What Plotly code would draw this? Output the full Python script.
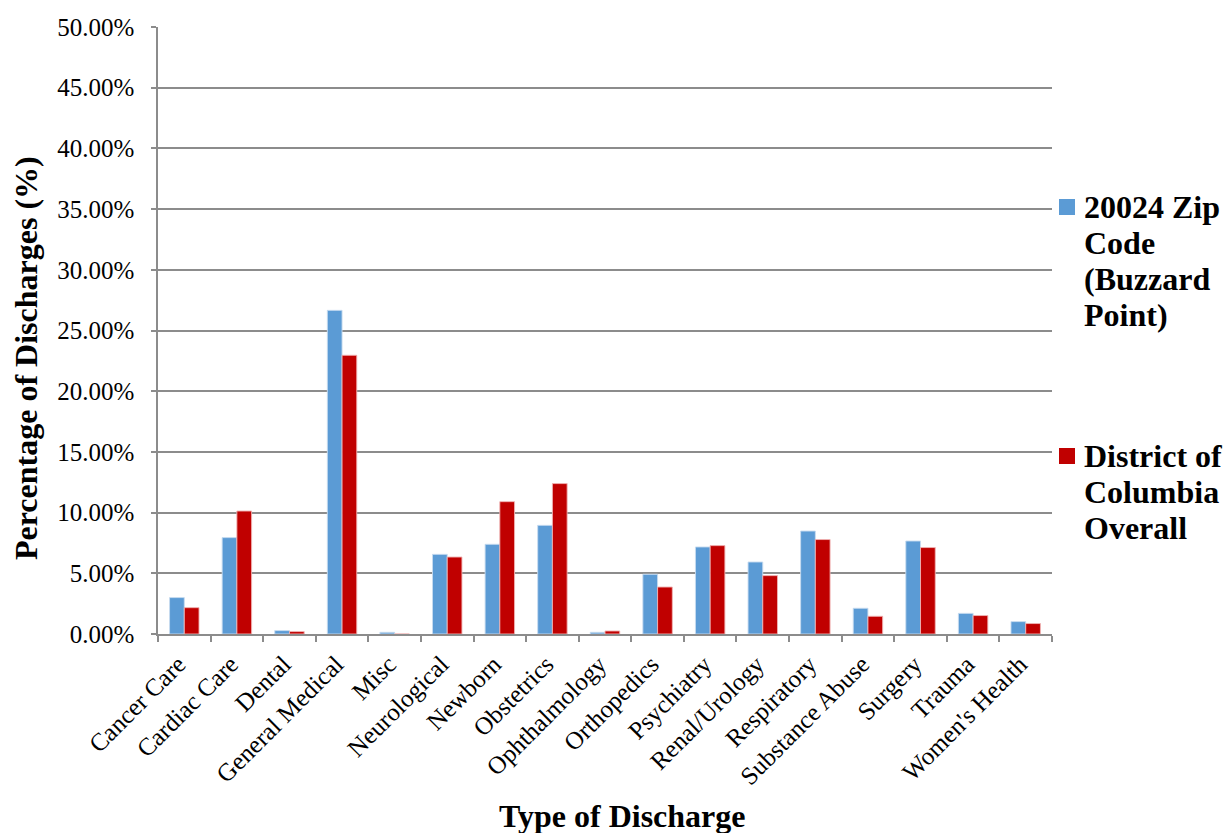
import plotly.graph_objects as go

categories = [
    "Cancer Care", "Cardiac Care", "Dental", "General Medical", "Misc",
    "Neurological", "Newborn", "Obstetrics", "Ophthalmology", "Orthopedics",
    "Psychiatry", "Renal/Urology", "Respiratory", "Substance Abuse", "Surgery",
    "Trauma", "Women's Health",
]
zip_20024 = [3.00, 7.94, 0.28, 26.66, 0.14, 6.56, 7.39, 8.95, 0.14, 4.92,
             7.17, 5.93, 8.48, 2.12, 7.66, 1.70, 1.02]
dc_overall = [2.17, 10.13, 0.20, 22.96, 0.00, 6.34, 10.90, 12.39, 0.25, 3.87,
              7.28, 4.81, 7.78, 1.46, 7.12, 1.52, 0.86]
y_ticks = [0, 5, 10, 15, 20, 25, 30, 35, 40, 45, 50]
y_tick_labels = [f"{v:.2f}%" for v in y_ticks]

# legend entries, one string per wrapped line
zip_label_lines = ["20024 Zip", "Code", "(Buzzard", "Point)"]
dc_label_lines = ["District of", "Columbia", "Overall"]

SERIF = "Liberation Serif, Times New Roman, serif"
GRID = "#8c8c8c"
BLUE = "#5B9BD5"
RED = "#C00000"

# plot-area geometry in pixels (used to place the hand-built legend)
W, H = 1225, 833
ML, MR, MT, MB = 158, 173, 27, 199
PW, PH = W - ML - MR, H - MT - MB


def px_x(x):
    return (x - ML) / PW


def px_y(y):
    return (H - MB - y) / PH


fig = go.Figure()
fig.add_trace(go.Bar(
    x=categories, y=zip_20024, name=" ".join(zip_label_lines),
    marker=dict(color=BLUE, line=dict(color="rgba(200,220,240,0.9)", width=1)),
))
fig.add_trace(go.Bar(
    x=categories, y=dc_overall, name=" ".join(dc_label_lines),
    marker=dict(color=RED, line=dict(color="rgba(240,180,180,0.9)", width=1)),
))

annotations = [
    dict(text="<b>Type of Discharge</b>", xref="paper", yref="paper",
         x=px_x(622), y=px_y(816), xanchor="center", yanchor="middle",
         showarrow=False, font=dict(family=SERIF, size=32, color="black")),
    dict(text="<b>Percentage of Discharges (%)</b>", xref="paper", yref="paper",
         x=px_x(26), y=px_y(358), xanchor="center", yanchor="middle", textangle=-90,
         showarrow=False, font=dict(family=SERIF, size=32, color="black")),
]
shapes = []

LINE_H = 36
for lines, color, top_center in ((zip_label_lines, BLUE, 207), (dc_label_lines, RED, 456)):
    shapes.append(dict(type="rect", xref="paper", yref="paper",
                       x0=px_x(1059), x1=px_x(1075),
                       y0=px_y(top_center - 8), y1=px_y(top_center + 8),
                       fillcolor=color, line=dict(width=0)))
    for i, line in enumerate(lines):
        annotations.append(dict(
            text=f"<b>{line}</b>", xref="paper", yref="paper",
            x=px_x(1082), y=px_y(top_center + i * LINE_H),
            xanchor="left", yanchor="middle", showarrow=False,
            font=dict(family=SERIF, size=32, color="black"),
        ))

fig.update_layout(
    width=W, height=H,
    margin=dict(l=ML, r=MR, t=MT, b=MB),
    paper_bgcolor="white", plot_bgcolor="white",
    barmode="group", bargap=0.44, bargroupgap=0,
    font=dict(family=SERIF, color="black", size=25),
    showlegend=False,
    annotations=annotations,
    shapes=shapes,
)

fig.update_xaxes(
    tickangle=-45, tickfont=dict(family=SERIF, size=25, color="black"),
    showline=True, linecolor=GRID, linewidth=1.5,
    ticks="outside", tickson="boundaries", ticklen=6, tickcolor=GRID, tickwidth=1.5,
    ticklabelshift=-6, ticklabelstandoff=4,
    showgrid=False,
)
fig.update_yaxes(
    range=[0, 50], tickvals=y_ticks, ticktext=y_tick_labels,
    tickfont=dict(family=SERIF, size=25, color="black"),
    showline=True, linecolor=GRID, linewidth=1.5,
    ticks="outside", ticklen=5, tickcolor=GRID, tickwidth=1.5, ticklabelstandoff=12,
    showgrid=True, gridcolor=GRID, gridwidth=1.5, zeroline=False,
)

fig.write_html("out.html")
